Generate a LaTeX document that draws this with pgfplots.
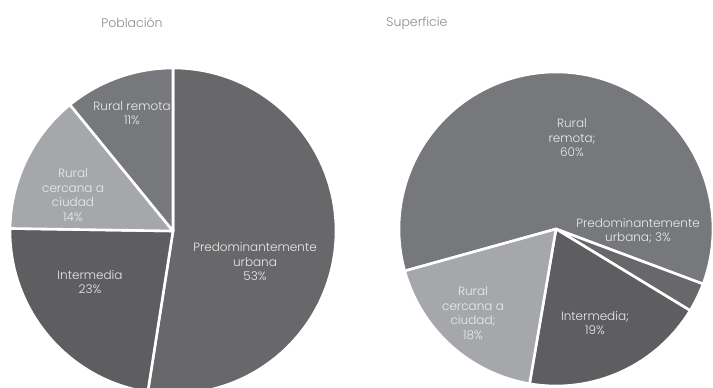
\documentclass[border=0pt]{standalone}
\usepackage{fontspec}
\setmainfont{Poppins}[UprightFont={* Light}]
\usepackage{pgfplots}
\usepackage{pgfplotstable}
\pgfplotsset{compat=1.18}

\definecolor{cU}{HTML}{68686B}
\definecolor{cI}{HTML}{5E5E61}
\definecolor{cC}{HTML}{A6A7AA}
\definecolor{cR}{HTML}{77787B}
\definecolor{tt}{HTML}{8A8A8A}
\definecolor{lb}{HTML}{ECECEC}
\tikzset{lbl/.style={font=\fontsize{12}{14.5}\selectfont, text=lb, align=center, inner sep=0pt}}

% Población (clockwise from 12 o'clock)
\pgfplotstableread{
val col
53 cU
23 cI
14 cC
11 cR
}\poblacion
% Superficie (clockwise)
\pgfplotstableread{
val col
60 cR
3 cU
19 cI
18 cC
}\superficie

% #1 result macro, #2 table, #3 cx, #4 cy, #5 radius, #6 start angle
\newcommand\buildpie[6]{%
  \gdef#1{}%
  \pgfplotstablegetrowsof{#2}\pgfmathtruncatemacro\pieN{\pgfplotsretval-1}%
  \xdef\pieTot{0}%
  \foreach \pieI in {0,...,\pieN}{%
    \pgfplotstablegetelem{\pieI}{val}\of{#2}%
    \pgfmathsetmacro\pieTmp{\pieTot+\pgfplotsretval}\xdef\pieTot{\pieTmp}}%
  \xdef\pieCum{0}%
  \foreach \pieI in {0,...,\pieN}{%
    \pgfplotstablegetelem{\pieI}{val}\of{#2}\edef\pieVal{\pgfplotsretval}%
    \pgfplotstablegetelem{\pieI}{col}\of{#2}\edef\pieCol{\pgfplotsretval}%
    \pgfmathsetmacro\pieA{#6-\pieCum/\pieTot*360}%
    \pgfmathsetmacro\pieB{#6-(\pieCum+\pieVal)/\pieTot*360}%
    \xdef#1{#1\noexpand\fill[fill=\pieCol,draw=white,line width=2.6pt,line join=round] (axis cs:#3,#4) -- ++(\pieA:#5pt) arc[start angle=\pieA,end angle=\pieB,radius=#5pt] -- cycle;}%
    \pgfmathsetmacro\pieTmp{\pieCum+\pieVal}\xdef\pieCum{\pieTmp}%
  }%
}

\begin{document}
\buildpie{\pieLeft}{\poblacion}{173}{231}{163}{90}%
\buildpie{\pieRight}{\superficie}{556}{229}{157}{195.5}%
\begin{tikzpicture}
\begin{axis}[
  at={(0,0)}, anchor=south west,
  scale only axis, width=713pt, height=388pt,
  xmin=0, xmax=713, ymin=0, ymax=388, y dir=reverse,
  hide axis, clip=false,
]
\pieLeft
\pieRight

\node[font=\fontsize{12.5}{15}\selectfont, text=tt] at (axis cs:132,23) {Población};
\node[font=\fontsize{12.5}{15}\selectfont, text=tt] at (axis cs:417,23) {Superficie};

\node[lbl] at (axis cs:132,113) {Rural remota\\11\%};
\node[lbl] at (axis cs:73,195) {Rural\\cercana a\\ciudad\\14\%};
\node[lbl] at (axis cs:90,282) {Intermedia\\23\%};
\node[lbl] at (axis cs:255,262) {Predominantemente\\urbana\\53\%};

\node[lbl] at (axis cs:572,138) {Rural\\remota;\\60\%};
\node[lbl] at (axis cs:638,231) {Predominantemente\\urbana; 3\%};
\node[lbl] at (axis cs:595,323) {Intermedia;\\19\%};
\node[lbl] at (axis cs:473,313) {Rural\\cercana a\\ciudad;\\18\%};
\end{axis}
\pgfresetboundingbox
\useasboundingbox (0,0) rectangle (713pt,388pt);
\end{tikzpicture}
\end{document}
